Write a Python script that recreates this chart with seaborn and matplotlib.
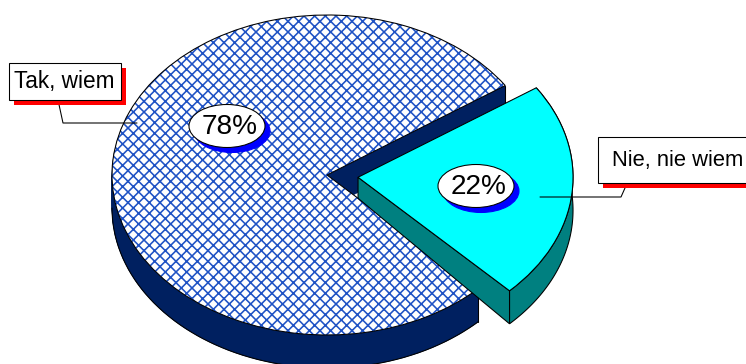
import numpy as np
import seaborn as sns
import matplotlib.pyplot as plt
from matplotlib.patches import Ellipse, Rectangle, Polygon

categories = ['Nie, nie wiem', 'Tak, wiem']
values = [22, 78]
pct_labels = ['22%', '78%']

W, H = 746, 364
CX, CY, RX, RY = 327, 175, 215, 160
DEPTH = 33
APEX_DEPTH = 21
START = -45.2
EXPLODE = 0.145

sns.set_style('white')
plt.rcParams['font.family'] = ['Liberation Sans', 'DejaVu Sans']
plt.rcParams['hatch.linewidth'] = 1.2

f = plt.figure(figsize=(W / 96, H / 96), dpi=96)
ax = f.add_axes([0, 0, 1, 1])


def px(x, y):
    # screen pixels to pie units
    return (x - CX) / RX, (CY - y) / RY


fracs = np.array(values) / sum(values)
a0 = np.radians(START)
a1 = a0 + 2 * np.pi * fracs[0]
mid = (a0 + a1) / 2
off = np.array([np.cos(mid), np.sin(mid)]) * EXPLODE
depth = DEPTH / RY
LW = 0.8


def layer(i, dy, mode, color, hatch=None):
    # draw only wedge i of the pie, the other one stays invisible
    wedges, _ = ax.pie(fracs, startangle=START, colors=[color, color], explode=[EXPLODE, 0],
                       center=(0, dy), radius=1, normalize=False)
    wedges[1 - i].set_visible(False)
    w = wedges[i]
    if mode == 'side':
        w.set(edgecolor=color, linewidth=0.5)
    elif mode == 'line':
        w.set(fill=False, edgecolor='black', linewidth=LW)
    elif mode == 'hatch':
        w.set(facecolor='white', edgecolor=color, linewidth=0, hatch=hatch)
    else:
        w.set(edgecolor='black', linewidth=LW)


def side_edge(x, y, d=depth):
    ax.plot([x, x], [y, y - d], color='black', lw=LW, zorder=1)


# 78% slice
for d in range(DEPTH, 0, -1):
    layer(1, -d / RY, 'side', '#002060')
# only the front part of the lower rim shows
t = np.linspace(np.pi, a0 + 2 * np.pi, 200)
ax.plot(np.cos(t), np.sin(t) - depth, color='black', lw=LW, zorder=1)
side_edge(np.cos(a1), np.sin(a1))
side_edge(np.cos(a0), np.sin(a0))
layer(1, 0, 'hatch', '#1f52c4', hatch='xxx')
layer(1, 0, 'line', 'black')

# 22% slice, pulled out of the pie
t = np.linspace(a0, a1, 80)
top = np.column_stack([np.cos(t) + off[0], np.sin(t) + off[1]])
bottom = top - [0, depth]
ax.add_patch(Polygon(np.vstack([top, bottom[::-1]]), facecolor='#008080', edgecolor='black', linewidth=LW))
tip = top[0]
ax.add_patch(Polygon([off, tip, tip - [0, depth], off - [0, APEX_DEPTH / RY]],
                     facecolor='#008080', edgecolor='black', linewidth=LW))
layer(0, 0, 'top', '#00ffff')

ax.set_aspect('auto')
ax.set_xlim(-CX / RX, (W - CX) / RX)
ax.set_ylim((CY - H) / RY, CY / RY)
ax.set_axis_off()

# leader lines
for xs, ys in [((137, 63, 58), (123, 123, 100)), ((540, 621, 625), (197, 197, 188))]:
    p = [px(x, y) for x, y in zip(xs, ys)]
    ax.plot([q[0] for q in p], [q[1] for q in p], color='black', lw=0.8, zorder=3)


def badge(text, x, y):
    for dx, fc, ec in [(5, '#0000ff', '#0000ff'), (0, 'white', 'black')]:
        c = px(x + dx, y + dx)
        ax.add_patch(Ellipse(c, 76 / RX, 43 / RY, facecolor=fc, edgecolor=ec,
                             linewidth=LW, zorder=4))
    ax.text(*px(x + 3, y + 0.5), text, fontsize=21, ha='center', va='center', color='black', zorder=5)


badge(pct_labels[0], 476, 186)
badge(pct_labels[1], 227, 126)


def label_box(text, x0, y0, x1, y1, pad, size):
    for dx, fc, ec in [(5, '#ff0000', 'none'), (0, 'white', 'black')]:
        ax.add_patch(Rectangle(px(x0 + dx, y1 + dx), (x1 - x0) / RX, (y1 - y0) / RY,
                               facecolor=fc, edgecolor=ec, linewidth=LW, zorder=4))
    ax.text(*px(x0 + pad, (y0 + y1) / 2), text, fontsize=size,
            ha='left', va='center', color='black', zorder=5)


label_box(categories[1], 9, 63, 121, 100, 5, 17)
label_box(categories[0], 598, 137, 760, 183, 14, 16.5)

f.savefig('out.png', dpi=96)
